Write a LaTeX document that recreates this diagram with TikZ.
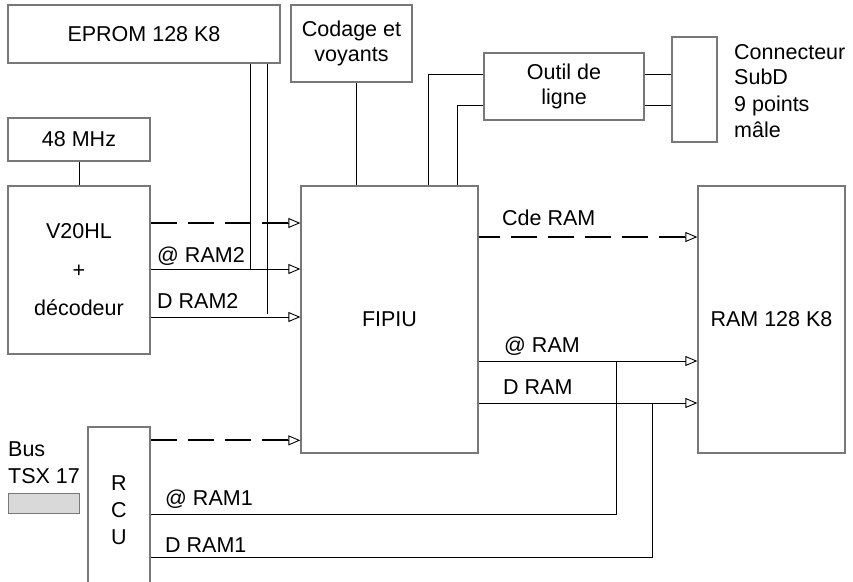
\documentclass[tikz,border=0pt]{standalone}
\usepackage{fontspec}
\setmainfont{Liberation Sans}
\usetikzlibrary{arrows.meta}
\definecolor{BoxGray}{RGB}{120,120,120}
\definecolor{BusGray}{RGB}{217,217,217}

\begin{document}
\begin{tikzpicture}[
    x=1pt, y=-1pt,
    every node/.style={font=\fontsize{21.5}{25.5}\selectfont},
    blok/.style={draw=BoxGray, line width=1.3pt, inner sep=0pt},
    wire/.style={black, line width=0.9pt},
    bus/.style={wire, -{Triangle[open, length=12pt, width=10pt]}},
    ctl/.style={wire, line width=1.8pt, dash pattern=on 26pt off 11pt, shorten <=12pt},
    lbl/.style={anchor=base west, inner sep=0pt}
]
\useasboundingbox (0,0) rectangle (853,581);
\clip (0,0) rectangle (853,581);

\node[blok, minimum width=272pt, minimum height=58pt] (eprom) at (144,34) {EPROM 128 K8};
\node[blok, minimum width=142pt, minimum height=43pt] (clk) at (79,139.5) {48 MHz};
\node[blok, minimum width=142pt, minimum height=168pt, align=center] (cpu) at (79,270) {V20HL\\[13pt]+\\[13pt]décodeur};
\node[blok, minimum width=121pt, minimum height=77pt, align=center] (codage) at (351.5,43.5) {Codage et\\voyants};
\node[blok, minimum width=177pt, minimum height=267pt] (fipiu) at (389.5,319.5) {FIPIU};
\node[blok, minimum width=160pt, minimum height=67pt, align=center] (outil) at (564,86.5) {Outil de\\ligne};
\node[blok, minimum width=45pt, minimum height=105pt] (conn) at (694.5,89.5) {};
\node[anchor=north west, align=left, inner sep=0pt] (connlbl) at (734,44) {Connecteur\\SubD\\[1pt]9 points\\[1pt]mâle};
\node[blok, minimum width=147pt, minimum height=267pt] (ram) at (771.5,319.5) {RAM 128 K8};
\node[blok, minimum width=62pt, minimum height=166pt, align=center] (rcu) at (119,510) {R\\[1.5pt]C\\[1.5pt]U};
\node[anchor=north west, align=left, inner sep=0pt] (buslbl) at (8,441) {Bus\\[1.5pt]TSX 17};
\node[draw=BoxGray, fill=BusGray, line width=1pt, minimum width=71pt, minimum height=20pt, inner sep=0pt] (busbar) at (43.5,503) {};

% libelles des bus
\node[lbl] (a2lbl) at (157,262) {@ RAM2};
\node[lbl] (d2lbl) at (157,308) {D RAM2};
\node[lbl] (cdelbl) at (502,225) {Cde RAM};
\node[lbl] (aramlbl) at (504,352) {@ RAM};
\node[lbl] (dramlbl) at (503,394) {D RAM};
\node[lbl] (aram1lbl) at (165,505) {@ RAM1};
\node[lbl] (dram1lbl) at (165,552) {D RAM1};

\coordinate (a2) at (250,269);
\coordinate (d2) at (267,317);
\coordinate (o1) at (428,74);
\coordinate (o2) at (457,105);
\coordinate (aram) at (616,361);
\coordinate (dram) at (652,403);
\coordinate (aram1) at (616,514);
\coordinate (dram1) at (652,557);
\coordinate (ctl2) at ([yshift=47pt]cpu.east);
\coordinate (cde) at ([yshift=82.5pt]fipiu.east);
\coordinate (ctl1) at ([yshift=-14pt]rcu.north east);

\draw[wire] (clk) -- (cpu);
\draw[wire] (eprom.south -| a2) -- (a2);
\draw[wire] (eprom.south -| d2) -- ([yshift=3pt]d2);
\draw[ctl] (ctl2 -| fipiu.west) -- (ctl2);
\draw[bus] ([xshift=-16pt]ctl2 -| fipiu.west) -- (ctl2 -| fipiu.west);
\draw[bus] (a2 -| cpu.east) -- (a2 -| fipiu.west);
\draw[bus] (d2 -| cpu.east) -- (d2 -| fipiu.west);
\draw[wire] ([xshift=5pt]codage.south) -- ([xshift=5pt]codage.south |- fipiu.north);
\draw[wire] (o1 -| outil.west) -- (o1) -- (o1 |- fipiu.north);
\draw[wire] (o2 -| outil.west) -- (o2) -- (o2 |- fipiu.north);
\draw[wire] (o1 -| outil.east) -- (o1 -| conn.west);
\draw[wire] (o2 -| outil.east) -- (o2 -| conn.west);
\draw[ctl] (cde -| ram.west) -- (cde);
\draw[bus] ([xshift=-16pt]cde -| ram.west) -- (cde -| ram.west);
\draw[bus] (aram -| fipiu.east) -- (aram -| ram.west);
\draw[bus] (dram -| fipiu.east) -- (dram -| ram.west);
\draw[wire] (aram) -- (aram1) -- (aram1 -| rcu.east);
\draw[wire] (dram) -- (dram1) -- (dram1 -| rcu.east);
\draw[ctl] (ctl1 -| fipiu.west) -- (ctl1);
\draw[bus] ([xshift=-16pt]ctl1 -| fipiu.west) -- (ctl1 -| fipiu.west);
\end{tikzpicture}
\end{document}
